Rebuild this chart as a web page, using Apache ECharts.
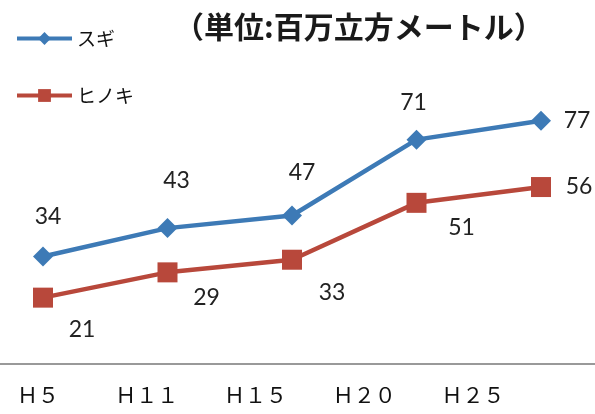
<!DOCTYPE html>
<html>
<head>
<meta charset="utf-8">
<script src="https://cdn.jsdelivr.net/npm/echarts@6/dist/echarts.min.js"></script>
<style>
html,body{margin:0;padding:0;background:#fff;}
#c{width:595px;height:414px;}
</style>
</head>
<body>
<div id="c"></div>
<script>
var categories = ['Ｈ５', 'Ｈ１１', 'Ｈ１５', 'Ｈ２０', 'Ｈ２５'];
var sugi = [34, 43, 47, 71, 77];
var hinoki = [21, 29, 33, 51, 56];
var seriesNames = ['スギ', 'ヒノキ'];
var titleText = '（単位:百万立方メートル）';

// label placement (style only)
var sugiOffsets = [[5, -40], [9, -48], [10, -43], [-3, -37], [36, 0]];
var hinokiOffsets = [[39, 32], [39, 25], [40, 33], [45, 25], [38, 0]];

function withLabels(vals, offs) {
  return vals.map(function (v, i) {
    return { value: v, label: { offset: offs[i] } };
  });
}

var labelStyle = {
  show: true,
  position: 'inside',
  align: 'center',
  verticalAlign: 'middle',
  fontFamily: 'Lato',
  fontSize: 23,
  color: '#222'
};

var chart = echarts.init(document.getElementById('c'), null, { renderer: 'canvas' });
chart.setOption({
  backgroundColor: '#fff',
  animation: false,
  title: {
    text: titleText,
    left: 174,
    top: 12,
    padding: 0,
    textStyle: {
      fontFamily: 'Noto Sans CJK JP',
      fontSize: 30,
      fontWeight: 'bold',
      color: '#1a1a1a'
    }
  },
  legend: {
    orient: 'vertical',
    left: 15,
    top: 29,
    padding: 0,
    itemWidth: 55,
    itemHeight: 16,
    itemGap: 38,
    lineStyle: { width: 4 },
    textStyle: { fontFamily: 'Noto Sans CJK JP', fontSize: 19, color: '#111' },
    data: seriesNames
  },
  grid: [
    { left: 43, right: 54, top: 48, bottom: 50 },
    { left: 38, right: 122, top: 48, bottom: 50 },
    { left: 0, right: 0, top: 48, bottom: 50 }
  ],
  xAxis: [
    {
      type: 'category', gridIndex: 0, data: categories, boundaryGap: false,
      axisLine: { show: false }, axisTick: { show: false }, axisLabel: { show: false }
    },
    {
      type: 'category', gridIndex: 1, data: categories, boundaryGap: false,
      axisLine: { show: false },
      axisTick: { show: false },
      axisLabel: {
        show: true, margin: 21,
        fontFamily: 'Noto Sans CJK JP', fontSize: 21, color: '#111'
      }
    },
    {
      type: 'category', gridIndex: 2, data: categories, boundaryGap: false,
      axisLine: { show: true, lineStyle: { color: '#777', width: 1.5 } },
      axisTick: { show: false }, axisLabel: { show: false }
    }
  ],
  yAxis: [
    { type: 'value', gridIndex: 0, min: 0, max: 100, show: false },
    { type: 'value', gridIndex: 1, min: 0, max: 100, show: false },
    { type: 'value', gridIndex: 2, min: 0, max: 100, show: false }
  ],
  series: [
    {
      name: seriesNames[0], type: 'line', xAxisIndex: 0, yAxisIndex: 0,
      data: withLabels(sugi, sugiOffsets),
      symbol: 'diamond', symbolSize: 20,
      lineStyle: { color: '#3d7ab6', width: 4.5 },
      itemStyle: { color: '#3d7ab6' },
      label: labelStyle
    },
    {
      name: seriesNames[1], type: 'line', xAxisIndex: 0, yAxisIndex: 0,
      data: withLabels(hinoki, hinokiOffsets),
      symbol: 'rect', symbolSize: 20,
      lineStyle: { color: '#b8483b', width: 4.5 },
      itemStyle: { color: '#b8483b' },
      label: labelStyle
    }
  ]
});
</script>
</body>
</html>
